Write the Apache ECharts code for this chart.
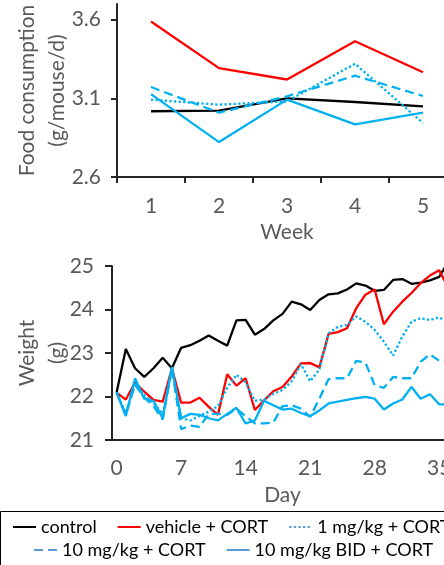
<!DOCTYPE html>
<html>
<head>
<meta charset="utf-8">
<script src="https://cdn.jsdelivr.net/npm/echarts@6/dist/echarts.min.js"></script>
<style>
html,body{margin:0;padding:0;background:#fff;}
#chart{width:444px;height:565px;}
</style>
</head>
<body>
<div id="chart"></div>
<script>
// ---- Top panel: food consumption per week ----
var weeks = ['1', '2', '3', '4', '5'];
var foodControl = [3.018, 3.022, 3.100, 3.077, 3.049];
var foodVehicle = [3.589, 3.292, 3.220, 3.463, 3.266];
var food1mg = [3.092, 3.060, 3.081, 3.320, 2.944];
var food10mg = [3.172, 3.009, 3.113, 3.244, 3.115];
var food10mgBID = [3.127, 2.822, 3.092, 2.935, 3.009];
var foodTicks = [2.6, 3.1, 3.6];

// ---- Bottom panel: body weight per day ----
var days = [];
for (var i = 0; i <= 36; i++) days.push(String(i));
var wControl = [22.09, 23.09, 22.65, 22.45, 22.65, 22.89, 22.65, 23.12, 23.18, 23.28, 23.40, 23.28, 23.17, 23.75, 23.76, 23.42, 23.55, 23.75, 23.90, 24.18, 24.12, 23.99, 24.22, 24.35, 24.37, 24.46, 24.60, 24.55, 24.43, 24.45, 24.68, 24.70, 24.59, 24.62, 24.67, 24.75, 25.10];
var wVehicle = [22.09, 21.93, 22.32, 22.11, 21.92, 21.88, 22.65, 21.86, 21.86, 21.97, 21.76, 21.58, 22.51, 22.25, 22.42, 21.69, 21.91, 22.12, 22.22, 22.46, 22.76, 22.77, 22.67, 23.44, 23.48, 23.57, 24.03, 24.34, 24.46, 23.66, 23.95, 24.18, 24.38, 24.61, 24.78, 24.90, 24.50];
var w1mg = [22.09, 21.62, 22.32, 22.03, 21.85, 21.60, 22.65, 21.50, 21.45, 21.55, 21.65, 21.78, 22.20, 22.50, 22.33, 21.90, 21.93, 22.06, 22.15, 22.35, 22.74, 22.35, 22.62, 23.45, 23.60, 23.65, 23.84, 23.72, 23.53, 23.26, 22.94, 23.38, 23.72, 23.80, 23.76, 23.82, 23.70];
var w10mg = [22.09, 21.58, 22.27, 21.98, 21.78, 21.47, 22.65, 21.25, 21.33, 21.30, 21.60, 21.60, 21.58, 21.72, 21.55, 21.38, 21.38, 21.40, 21.78, 21.80, 21.72, 21.53, 21.95, 22.40, 22.42, 22.42, 22.82, 22.78, 22.26, 22.20, 22.45, 22.42, 22.42, 22.80, 22.97, 22.82, 22.82];
var w10mgBID = [22.09, 21.55, 22.42, 21.95, 21.90, 21.50, 22.68, 21.50, 21.60, 21.58, 21.50, 21.45, 21.60, 21.74, 21.38, 21.45, 21.90, 21.80, 21.70, 21.72, 21.62, 21.55, 21.68, 21.84, 21.88, 21.92, 21.96, 21.99, 21.95, 21.70, 21.84, 21.93, 22.22, 21.95, 22.05, 21.82, 21.82];

var names = ['control', 'vehicle + CORT', '1 mg/kg + CORT', '10 mg/kg + CORT', '10 mg/kg BID + CORT'];
var colors = ['#000000', '#FF0000', '#00B0F0', '#00B0F0', '#00B0F0'];
var legendColors = ['#000000', '#FF0000', '#5B9BD5', '#5B9BD5', '#5B9BD5'];
var dashTypes = ['solid', 'solid', [2.3, 2.3], [9, 5], 'solid'];

var FONT = 'Lato, "Open Sans", sans-serif';
var GRAY = '#595959';
var AXIS = '#262626';
var FS = 21;

var foodData = [foodControl, foodVehicle, food1mg, food10mg, food10mgBID];
var weightData = [wControl, wVehicle, w1mg, w10mg, w10mgBID];

var series = [];
for (var s = 0; s < 5; s++) {
  series.push({
    name: names[s], type: 'line', xAxisIndex: 0, yAxisIndex: 0,
    data: foodData[s], symbol: 'none', color: colors[s],
    lineStyle: { color: colors[s], width: 2.3, type: dashTypes[s] },
    animation: false
  });
}
for (var s2 = 0; s2 < 5; s2++) {
  series.push({
    name: names[s2], type: 'line', xAxisIndex: 1, yAxisIndex: 1,
    data: weightData[s2], symbol: 'none', color: colors[s2],
    lineStyle: { color: colors[s2], width: 2.3, type: dashTypes[s2] },
    animation: false
  });
}

function legendItem(i) {
  return {
    name: names[i],
    itemStyle: { color: 'rgba(0,0,0,0)', borderColor: 'rgba(0,0,0,0)', borderWidth: 0, opacity: 0 },
    lineStyle: { color: legendColors[i], width: 2 }
  };
}
var legendCommon = {
  orient: 'horizontal', padding: 0, itemWidth: 23, itemHeight: 12, itemGap: 20,
  width: 900,
  textStyle: { fontFamily: FONT, fontSize: 18, color: '#000' },
  selectedMode: false
};

var chart = echarts.init(document.getElementById('chart'), null, { renderer: 'canvas' });
chart.setOption({
  animation: false,
  backgroundColor: '#fff',
  grid: [
    { left: 117, top: 4, width: 340, height: 173, outerBoundsMode: 'none', containLabel: false },
    { left: 112, top: 266, width: 341, height: 174, outerBoundsMode: 'none', containLabel: false }
  ],
  xAxis: [
    {
      type: 'category', gridIndex: 0, data: weeks, boundaryGap: true,
      name: 'Week', nameLocation: 'middle', nameGap: 45, nameMoveOverlap: false,
      nameTextStyle: { fontFamily: FONT, fontSize: FS, color: GRAY },
      axisLine: { lineStyle: { color: AXIS, width: 2 } },
      axisTick: { show: true, length: 6, lineStyle: { color: AXIS, width: 2 } },
      axisLabel: { fontFamily: FONT, fontSize: FS, color: GRAY, margin: 19 }
    },
    {
      type: 'category', gridIndex: 1, data: days, boundaryGap: true,
      name: 'Day', nameLocation: 'middle', nameGap: 45, nameMoveOverlap: false,
      nameTextStyle: { fontFamily: FONT, fontSize: FS, color: GRAY },
      axisLine: { lineStyle: { color: AXIS, width: 2 } },
      axisTick: { show: false },
      axisLabel: { fontFamily: FONT, fontSize: FS, color: GRAY, margin: 18, interval: 6 }
    }
  ],
  yAxis: [
    {
      type: 'value', gridIndex: 0, min: 2.6, max: 3.7,
      name: 'Food consumption\n(g/mouse/d)', nameLocation: 'middle', nameGap: 45, nameMoveOverlap: false,
      nameTextStyle: { fontFamily: FONT, fontSize: FS, color: GRAY, lineHeight: 30 },
      axisLine: { show: true, lineStyle: { color: AXIS, width: 2 } },
      axisTick: { show: true, length: 6, lineStyle: { color: AXIS, width: 2 }, customValues: foodTicks },
      axisLabel: { fontFamily: FONT, fontSize: FS, color: GRAY, margin: 16, customValues: foodTicks,
        formatter: function (v) { return v.toFixed(1); } },
      splitLine: { show: false }
    },
    {
      type: 'value', gridIndex: 1, min: 21, max: 25, interval: 1,
      name: 'Weight\n(g)', nameLocation: 'middle', nameGap: 40, nameMoveOverlap: false,
      nameTextStyle: { fontFamily: FONT, fontSize: FS, color: GRAY, lineHeight: 30 },
      axisLine: { show: true, lineStyle: { color: AXIS, width: 2 } },
      axisTick: { show: true, length: 7, lineStyle: { color: AXIS, width: 2 } },
      axisLabel: { fontFamily: FONT, fontSize: FS, color: GRAY, margin: 18 },
      splitLine: { show: false }
    }
  ],
  legend: [
    Object.assign({}, legendCommon, { left: 12, top: 518, data: [legendItem(0), legendItem(1), legendItem(2)] }),
    Object.assign({}, legendCommon, { left: 33, top: 541, data: [legendItem(3), legendItem(4)] })
  ],
  graphic: [
    { type: 'rect', shape: { x: 0.5, y: 511.5, width: 470, height: 80 },
      style: { fill: 'none', stroke: '#000', lineWidth: 1 }, silent: true, z: 100 }
  ],
  series: series
});
</script>
</body>
</html>
